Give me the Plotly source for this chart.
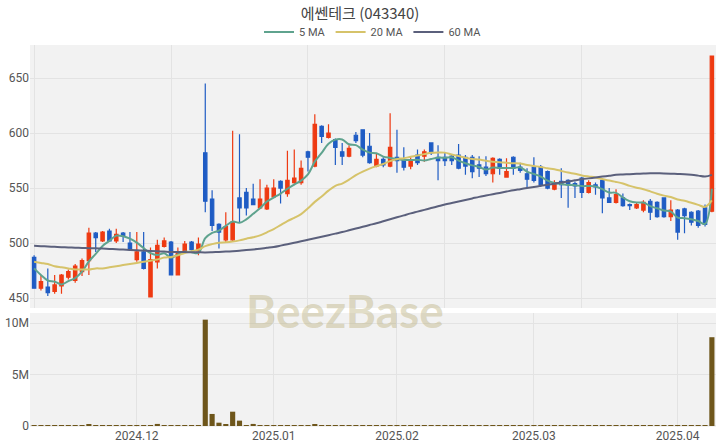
import pandas as pd
import plotly.graph_objects as go
from plotly.subplots import make_subplots

# ---- data ----
holidays = ["2024-12-25", "2024-12-31", "2025-01-01", "2025-01-27",
            "2025-01-28", "2025-01-29", "2025-01-30"]
dates = [d.strftime("%Y-%m-%d") for d in pd.bdate_range("2024-11-11", "2025-04-08")
         if d.strftime("%Y-%m-%d") not in holidays]

open_ = [487, 459, 460, 456, 461, 469, 466, 474, 484, 509,
         502, 511, 502, 509, 500, 485, 492, 451, 483, 497,
         501, 471, 492, 501, 493, 582, 540, 517, 503, 503,
         541, 546, 540, 532, 531, 542, 556, 545, 555, 555,
         583, 570, 606, 596, 594, 583, 579, 598, 603, 588,
         570, 576, 570, 578, 575, 570, 580, 579, 591, 578,
         578, 579, 580, 578, 578, 571, 569, 563, 576, 560,
         578, 569, 563, 569, 569, 565, 549, 556, 557, 554,
         559, 546, 553, 557, 541, 537, 541, 535, 532, 530,
         538, 537, 541, 524, 530, 531, 528, 529, 532, 529]
high = [489, 471, 477, 471, 472, 476, 481, 486, 514, 510,
        511, 513, 513, 510, 510, 510, 510, 496, 503, 505,
        502, 496, 502, 502, 505, 645, 548, 518, 528, 602,
        599, 550, 554, 558, 553, 558, 557, 584, 585, 575,
        584, 617, 607, 608, 595, 591, 589, 601, 603, 600,
        581, 578, 618, 603, 587, 578, 585, 585, 591, 589,
        582, 581, 590, 580, 580, 579, 579, 578, 577, 577,
        579, 573, 568, 578, 571, 566, 557, 568, 558, 556,
        560, 557, 555, 557, 550, 549, 545, 536, 537, 539,
        540, 538, 541, 539, 531, 532, 529, 530, 535, 670]
low = [459, 457, 452, 454, 454, 467, 464, 470, 471, 492,
       501, 501, 500, 501, 493, 483, 476, 451, 477, 496,
       471, 471, 491, 493, 489, 528, 511, 495, 501, 502,
       519, 525, 535, 531, 530, 541, 536, 542, 554, 553,
       565, 569, 591, 595, 571, 571, 578, 591, 578, 572,
       569, 569, 569, 564, 566, 567, 571, 574, 580, 557,
       570, 571, 567, 562, 559, 560, 561, 555, 562, 560,
       562, 564, 550, 555, 551, 549, 548, 541, 532, 541,
       541, 545, 544, 527, 537, 536, 533, 530, 531, 528,
       521, 523, 523, 520, 503, 509, 516, 514, 515, 528]
close = [459, 465, 455, 462, 471, 474, 479, 484, 509, 505,
         510, 502, 508, 506, 494, 492, 477, 485, 498, 502,
         471, 492, 499, 494, 499, 538, 516, 510, 515, 519,
         532, 532, 535, 540, 550, 550, 550, 557, 559, 568,
         578, 608, 597, 600, 587, 579, 586, 593, 580, 573,
         576, 571, 587, 575, 569, 575, 573, 583, 582, 575,
         575, 575, 568, 570, 565, 568, 563, 577, 568, 565,
         568, 566, 558, 557, 553, 550, 555, 553, 553, 552,
         546, 555, 551, 541, 537, 544, 534, 534, 535, 537,
         528, 524, 524, 530, 510, 525, 519, 516, 517, 670]
volume = [60e3, 40e3, 50e3, 40e3, 30e3, 30e3, 40e3, 50e3, 120e3, 50e3,
          40e3, 30e3, 30e3, 30e3, 30e3, 40e3, 40e3, 90e3, 200e3, 60e3,
          80e3, 60e3, 40e3, 30e3, 40e3, 10.35e6, 1.17e6, 0.32e6, 0.18e6, 1.39e6,
          0.52e6, 60e3, 0.2e6, 70e3, 50e3, 50e3, 40e3, 60e3, 50e3, 60e3,
          50e3, 120e3, 60e3, 40e3, 40e3, 30e3, 30e3, 40e3, 40e3, 30e3,
          30e3, 30e3, 60e3, 40e3, 30e3, 30e3, 30e3, 30e3, 30e3, 40e3,
          30e3, 30e3, 30e3, 30e3, 30e3, 30e3, 30e3, 40e3, 30e3, 30e3,
          30e3, 30e3, 40e3, 30e3, 30e3, 30e3, 30e3, 30e3, 40e3, 30e3,
          30e3, 30e3, 30e3, 40e3, 30e3, 30e3, 30e3, 30e3, 30e3, 30e3,
          40e3, 30e3, 40e3, 30e3, 50e3, 40e3, 30e3, 30e3, 40e3, 8.64e6]

# moving averages: leading values (history before window)
ma5_head = [477, 471, 466, 465]
ma20_head = [483, 482, 481, 479, 478, 477, 476, 476, 476, 477,
             477, 478, 479, 480, 481, 482, 483, 484, 485]
ma60 = [497.5, 497.2, 496.9, 496.6, 496.3, 496.0, 495.8, 495.6, 495.4, 495.2,
        495.0, 494.7, 494.4, 494.1, 493.8, 493.5, 493.2, 492.9, 492.6, 492.3,
        492.0, 491.9, 491.8, 491.7, 491.6, 491.5, 491.7, 492.0, 492.3, 492.6,
        493.0, 493.6, 494.2, 494.9, 495.7, 496.5, 497.7, 499.0, 500.3, 501.6,
        503.0, 504.4, 505.8, 507.2, 508.6, 510.0, 511.6, 513.2, 514.8, 516.4,
        518.0, 519.8, 521.6, 523.4, 525.2, 527.0, 528.6, 530.2, 531.8, 533.4,
        535.0, 536.4, 537.8, 539.2, 540.6, 542.0, 543.2, 544.4, 545.6, 546.8,
        548.0, 549.0, 550.0, 551.0, 552.0, 553.0, 554.0, 555.0, 556.0, 557.0,
        558.0, 558.8, 559.6, 560.4, 561.2, 562.0, 562.3, 562.6, 562.9, 563.2,
        563.5, 563.4, 563.3, 563.1, 562.8, 562.5, 562.0, 561.3, 560.5, 562.0]

month_ticks = ["2024-12-02", "2025-01-02", "2025-02-03", "2025-03-03", "2025-04-01"]
month_labels = ["2024.12", "2025.01", "2025.02", "2025.03", "2025.04"]

# ---- derived ----
cs = pd.Series(close, dtype=float)
ma5 = cs.rolling(5).mean().tolist()
ma5[:4] = ma5_head
ma20 = cs.rolling(20).mean().tolist()
ma20[:19] = ma20_head

RED = "#EE3A12"
BLUE = "#1F5CC4"

fig = make_subplots(rows=2, cols=1, shared_xaxes=False, vertical_spacing=0.013,
                    row_heights=[0.6885, 0.2985])

fig.add_trace(go.Candlestick(
    x=dates, open=open_, high=high, low=low, close=close,
    increasing=dict(line=dict(color=RED, width=1.2), fillcolor=RED),
    decreasing=dict(line=dict(color=BLUE, width=1.2), fillcolor=BLUE),
    whiskerwidth=0, showlegend=False, hoverinfo="skip"), row=1, col=1)

fig.add_trace(go.Scatter(x=dates, y=ma5, mode="lines", name="5 MA",
                         line=dict(color="#5FA38E", width=2, shape="spline")), row=1, col=1)
fig.add_trace(go.Scatter(x=dates, y=ma20, mode="lines", name="20 MA",
                         line=dict(color="#D6C36A", width=2, shape="spline")), row=1, col=1)
fig.add_trace(go.Scatter(x=dates, y=ma60, mode="lines", name="60 MA",
                         line=dict(color="#5B607C", width=2, shape="spline")), row=1, col=1)

fig.add_trace(go.Bar(x=dates, y=volume, marker=dict(color="#6E561B", line=dict(width=0)),
                     showlegend=False), row=2, col=1)

GRID = "#E3E3E3"
BG = "#F2F2F2"
tickfont = dict(family="Roboto", size=12, color="#555")

fig.update_xaxes(type="category", range=[-0.6, 99.6], autorange=False, showgrid=True,
                 gridcolor=GRID, zeroline=False, showline=False, ticks="",
                 tickfont=tickfont, automargin=False)
fig.update_xaxes(row=1, col=1, tickvals=[dates[i] for i in (0, 20, 40, 60, 80)],
                 showticklabels=False, rangeslider=dict(visible=False))
fig.update_xaxes(row=2, col=1, tickvals=month_ticks, ticktext=month_labels)

fig.update_yaxes(row=1, col=1, range=[441, 680], tickvals=[450, 500, 550, 600, 650],
                 gridcolor=GRID, zeroline=False, tickfont=tickfont, ticks="", automargin=False)
fig.update_yaxes(row=2, col=1, range=[-0.1e6, 11e6], tickvals=[0, 5e6, 10e6],
                 ticktext=["0", "5M", "10M"], gridcolor=GRID, zeroline=False,
                 tickfont=tickfont, ticks="", automargin=False)

fig.add_annotation(text="<b>BeezBase</b>", xref="paper", yref="paper",
                   x=0.459, y=0.306, xanchor="center", yanchor="middle", showarrow=False,
                   font=dict(family="Lato", size=46, color="rgba(190,180,130,0.45)"))

fig.update_layout(
    width=720, height=448,
    margin=dict(l=30, r=4, t=45, b=21, autoexpand=False),
    paper_bgcolor="white", plot_bgcolor=BG,
    title=dict(text="에쎈테크 (043340)", x=0.5, xanchor="center", y=0.969, yanchor="middle",
               font=dict(family="Noto Sans CJK KR", size=15, color="#444")),
    legend=dict(orientation="h", x=0.5, xanchor="center", y=1.034, yanchor="middle",
                font=dict(family="Roboto", size=11, color="#555"),
                itemwidth=30, bgcolor="rgba(0,0,0,0)", tracegroupgap=0),
    bargap=0.25,
    showlegend=True,
    hovermode=False,
)

fig.write_html("out.html", config={"displayModeBar": False},
               post_script="document.body.style.margin='0';document.body.style.padding='0';")
